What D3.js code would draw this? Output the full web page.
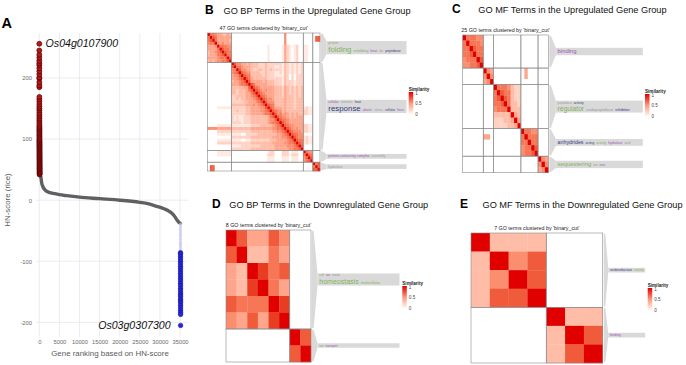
<!DOCTYPE html>
<html>
<head>
<meta charset="utf-8">
<script src="https://cdn.jsdelivr.net/npm/d3@7"></script>
<style>
body { margin: 0; background: #fff; }
svg { font-family: "Liberation Sans", Arial, sans-serif; }
</style>
</head>
<body>
<svg id="fig" width="686" height="365"></svg>
<script>
// ---------- panel A : HN-score ranking ----------
var nGenes = 35150
// top up-regulated genes (rank 1, 2, ...)
var upScores = [256, 245, 238, 233, 228, 224, 221, 216, 211, 206, 201, 199, 193, 188, 185,
  169, 165, 161, 157, 153, 150, 147, 143, 140, 137, 134, 131, 128, 125, 122, 120, 118, 116,
  114, 112, 110, 108, 106, 104, 102, 100, 98.5, 97, 95.5, 94, 92.5, 91, 89.5, 88, 86.5, 85,
  83.5, 82, 80.5, 79, 77.5, 76, 74.5, 73, 71.5, 70, 68.5, 67, 65.5, 64, 62.5, 61, 59.5, 58,
  56.5, 55, 53.5, 52, 50.5, 49, 47.5, 46, 44.5, 43, 42]
// the bulk of genes
var midRanks = [400, 600, 900, 1400, 2200, 3500, 5000, 6800, 10000, 15000, 20000, 25000,
  27000, 29200, 31000, 32500, 33500, 34200, 34700, 35050]
var midScores = [38, 28, 22, 17, 13.5, 11, 9, 7.4, 5, 2.5, 0, -3.5, -5.5, -10, -14, -19,
  -25, -32, -36, -38]
// faint transition genes before the down-regulated group
var fadeScores = [-40, -44, -48, -52, -56, -60, -64, -68, -71, -74, -78, -82]
// down-regulated genes (last ranks)
var downScores = [-86, -88, -92, -96, -100, -104, -108, -112, -116, -120, -124, -128, -132,
  -136, -140, -144, -148, -152, -155, -158, -162, -165, -168, -172, -176, -180, -184, -187, -205]
var xTicksA = [0, 5000, 10000, 15000, 20000, 25000, 30000, 35000]
var yTicksA = [-200, -100, 0, 100, 200]
var topGene = 'Os04g0107900'
var bottomGene = 'Os03g0307300'

// ---------- panels B-E : similarity matrices (lower triangle, digit/9) ----------
function z(n) { return '0'.repeat(n) }
var bpUpSizes = [10, 30, 4, 3]
var bpUpRows = [
  '9', '69', '679', '5669', '44459', '444469', '3445679', '34446679', '444456669', '3434556679',
  z(10) + '9', z(10) + '79', z(10) + '569', z(10) + '5679', z(10) + '45579', z(10) + '445679',
  z(10) + '3445679', z(10) + '44456679', z(10) + '333334479', z(10) + '3323334679',
  z(10) + '33233344679', z(10) + '223333445679', z(10) + '2232334445679',
  z(10) + '22222334445679', z(10) + '333333444545679',
  '0000111111' + '2222223344445579', z(10) + '22322233444455679',
  z(10) + '222222334444456679', z(10) + '2121122233333334679',
  z(10) + '21211222333333345579', z(10) + '222212223333333456679',
  '0000111111' + '1111111122223333345679', '5555444444' + '33333333444444444556679',
  '0000222222' + '222222223333333334455679', '0000111111' + '1111002222233333333445679',
  z(10) + '22222222333333333444455679', '0000111111' + '111100112222222233344445679',
  '0000222222' + '2222222233333333344444556679', z(10) + '11112222222233333344444555679',
  z(10) + '222222223333333333444444556679',
  '0000111111' + '000000000000000122000222011100' + '9',
  '0000111111' + '000000000000000222000222022200' + '69',
  z(10) + '000000000000000111000111011100' + '579',
  z(10) + '000000000000000111000111011100' + '5679',
  z(44) + '9', '0770000000' + z(34) + '69', '0770000000' + z(34) + '779'
]
var mfUpSizes = [6, 3, 8, 5, 3]
var mfUpRows = [
  '9', '69', '669', '6679', '56669', '556679',
  z(6) + '9', z(6) + '59', z(6) + '459',
  z(9) + '9', z(9) + '69', z(9) + '679', z(9) + '6679', z(9) + '56669', z(9) + '333339',
  z(9) + '2223349', z(9) + '22223349',
  z(17) + '9', '000000' + '44' + z(9) + '69', z(17) + '669', z(17) + '5669', z(17) + '56679',
  z(22) + '9', z(22) + '59', z(22) + '459'
]
var bpDownSizes = [6, 2]
var bpDownRows = ['9', '79', '439', '4389', '76669', '547489', z(6) + '9', z(6) + '79']
var mfDownSizes = [4, 3]
var mfDownRows = ['9', '39', '359', '3779', z(4) + '9', z(4) + '39', z(4) + '379']

// word clouds: [word, frequency]; one entry per annotated cluster (null = none)
var bpUpClouds = [
  { top: [['protein', 1.5]], main: [['folding', 9.5], ['refolding', 2.5], ['heat', 2], ['de', 2], ['peptidase', 2]] },
  { top: [['cellular', 1.5], ['stimulus', 1.5], ['heat', 1.5]], main: [['response', 9.5], ['abiotic', 1.5], ['stress', 1.5], ['cellular', 1.5], ['temperature', 1.5], ['heat', 1.5], ['protein', 1.5]] },
  { top: [], main: [['protein-containing complex', 1.8], ['assembly', 1.5]] },
  { top: [], main: [['hydrolase', 1.5]] }
]
var mfUpClouds = [
  { top: [], main: [['binding', 6]] },
  null,
  { top: [['peptidase', 1.5], ['activity', 1.5]], main: [['regulator', 7.5], ['endopeptidase', 3], ['inhibitor', 3]] },
  { top: [], main: [['anhydrides', 5], ['acting', 1.5], ['activity', 1.5], ['hydrolase', 1.5], ['acid', 1.5]] },
  { top: [], main: [['sequestering', 6], ['ion', 1.5], ['iron', 1.5]] }
]
var bpDownClouds = [
  { top: [['cell', 1.2], ['ion', 1.2], ['metal', 1.2]], main: [['homeostasis', 8], ['multicellular', 2.2], ['organismal', 2.2]] },
  { top: [], main: [['ion', 1.2], ['transport', 1.2]] }
]
var mfDownClouds = [
  { top: [], main: [['oxidoreductase', 1.5], ['activity', 1.2]] },
  { top: [], main: [['binding', 1.5]] }
]

var svg = d3.select('#fig')

// ================= panel A =================
function panelA() {
  var x = d3.scaleLinear().domain([-820, 37060]).range([36, 188.3])
  var y = d3.scaleLinear().domain([-223.4, 273.6]).range([336.7, 33])
  var g = svg.append('g')

  // grid
  g.selectAll('.vg').data(xTicksA).enter().append('line')
    .attr('x1', d => x(d)).attr('x2', d => x(d)).attr('y1', 33).attr('y2', 336.7)
    .attr('stroke', '#e2e4ef').attr('stroke-width', 0.7)
  g.selectAll('.hg').data(yTicksA).enter().append('line')
    .attr('y1', d => y(d)).attr('y2', d => y(d)).attr('x1', 36).attr('x2', 188.3)
    .attr('stroke', '#e2e4ef').attr('stroke-width', 0.7)

  var xAxis = d3.axisBottom(x).tickValues(xTicksA).tickSize(0).tickPadding(3.5)
    .tickFormat(d => String(d))
  var gx = g.append('g').attr('transform', 'translate(0,336.7)').call(xAxis)
  gx.select('.domain').remove()
  gx.selectAll('text').attr('font-size', 5.8).attr('fill', '#6b6b6b')
    .attr('font-family', '"Liberation Sans", Arial, sans-serif')

  var yAxis = d3.axisLeft(y).tickValues(yTicksA).tickSize(0).tickPadding(4)
    .tickFormat(d => String(d))
  var gy = g.append('g').attr('transform', 'translate(36,0)').call(yAxis)
  gy.select('.domain').remove()
  gy.selectAll('text').attr('font-size', 5.8).attr('fill', '#6b6b6b')
    .attr('font-family', '"Liberation Sans", Arial, sans-serif')

  // titles
  g.append('text').attr('x', 110).attr('y', 356).attr('text-anchor', 'middle')
    .attr('font-size', 7.9).attr('fill', '#5a5a5a').text('Gene ranking based on HN-score')
  g.append('text').attr('transform', 'translate(10,200) rotate(-90)').attr('text-anchor', 'middle')
    .attr('font-size', 7.9).attr('fill', '#5a5a5a').text('HN-score (rice)')
  svg.append('text').attr('x', 1.5).attr('y', 27.8).attr('font-size', 14.5)
    .attr('font-weight', 'bold').text('A')

  // grey bulk curve
  var line = d3.line().x(d => x(d[0])).y(d => y(d[1])).curve(d3.curveMonotoneX)
  g.append('path').datum(midRanks.map((r, i) => [r, midScores[i]]))
    .attr('d', line).attr('fill', 'none').attr('stroke', '#606060')
    .attr('stroke-width', 3.4).attr('stroke-linecap', 'round')

  // faint transition
  var fadeStart = nGenes - downScores.length - fadeScores.length
  g.selectAll('.fade').data(fadeScores).enter().append('circle')
    .attr('cx', (d, i) => x(fadeStart + i)).attr('cy', d => y(d)).attr('r', 1.6)
    .attr('fill', '#c9c9f0').attr('fill-opacity', 0.8)

  // up-regulated
  g.selectAll('.up').data(upScores.slice().reverse()).enter().append('circle')
    .attr('cx', (d, i) => x(upScores.length - i)).attr('cy', d => y(d)).attr('r', 2.5)
    .attr('fill', '#bb1515').attr('stroke', '#3a0000').attr('stroke-width', 0.6)

  // down-regulated
  var downStart = nGenes - downScores.length + 1
  g.selectAll('.down').data(downScores).enter().append('circle')
    .attr('cx', (d, i) => x(downStart + i)).attr('cy', d => y(d)).attr('r', 2.3)
    .attr('fill', '#2626dc').attr('stroke', '#10108a').attr('stroke-width', 0.5)

  g.append('text').attr('x', x(upScores.length) + 6).attr('y', y(upScores[0]) + 3.6)
    .attr('font-size', 10.6).attr('font-style', 'italic').attr('fill', '#111').text(topGene)
  g.append('text').attr('x', x(nGenes) - 10).attr('y', y(downScores[downScores.length - 1]) + 3.6)
    .attr('text-anchor', 'end').attr('font-size', 10.6).attr('font-style', 'italic')
    .attr('fill', '#111').text(bottomGene)
}

// ================= heatmap panels =================
var heatColor = d3.scaleLinear().domain([0, 1]).range(['#ffffff', '#e00000']).interpolate(d3.interpolateLab)
var green = '#84b25c', navy = '#3a3a86', purple = '#9e55b2', grey = '#9b9b9b'
var leadColor = { folding: green, response: navy, binding: purple, regulator: green,
  anhydrides: navy, sequestering: green, homeostasis: green }
var smallPalette = [navy, green, purple, grey]
var wordSize = d3.scaleLinear().domain([1, 9]).range([3, 7.6])

function toMatrix(rows) {
  var n = rows.length
  var m = []
  for (var i = 0; i < n; i++) {
    for (var j = 0; j < n; j++) {
      var a = Math.max(i, j), b = Math.min(i, j)
      m.push({ i: i, j: j, v: (+rows[a][b] || 0) / 9 })
    }
  }
  return m
}

function heatPanel(opt) {
  var n = opt.rows.length
  var g = svg.append('g')
  var x = d3.scaleBand().domain(d3.range(n)).range([opt.x0, opt.x1])
  var y = d3.scaleBand().domain(d3.range(n)).range([opt.y0, opt.y1])

  g.selectAll('.cell').data(toMatrix(opt.rows)).enter().append('rect')
    .attr('x', d => x(d.j)).attr('y', d => y(d.i))
    .attr('width', x.bandwidth() + 0.25).attr('height', y.bandwidth() + 0.25)
    .attr('fill', d => heatColor(d.v))

  // slice borders
  var cuts = [0]
  opt.sizes.forEach(s => cuts.push(cuts[cuts.length - 1] + s))
  var edge = k => k >= n ? opt.x1 : x(k)
  var edgeY = k => k >= n ? opt.y1 : y(k)
  for (var a = 0; a < opt.sizes.length; a++) {
    for (var b = 0; b < opt.sizes.length; b++) {
      g.append('rect').attr('x', edge(cuts[b])).attr('y', edgeY(cuts[a]))
        .attr('width', edge(cuts[b + 1]) - edge(cuts[b]))
        .attr('height', edgeY(cuts[a + 1]) - edgeY(cuts[a]))
        .attr('fill', 'none').attr('stroke', '#8a8a8a').attr('stroke-width', 0.6)
    }
  }

  // subtitle
  g.append('text').attr('x', (opt.x0 + opt.x1) / 2).attr('y', opt.y0 - 3.2)
    .attr('text-anchor', 'middle').attr('font-size', 5.3).attr('fill', '#222')
    .text(n + " GO terms clustered by 'binary_cut'")

  // word cloud boxes with links
  var bx = opt.x1 + opt.link
  opt.clouds.forEach(function (c, k) {
    if (!c) return
    var top = edgeY(cuts[k]), bot = edgeY(cuts[k + 1])
    var cy = (top + bot) / 2
    var mainSize = d3.max(c.main, w => wordSize(w[1]))
    var topSize = c.top.length ? d3.max(c.top, w => wordSize(w[1])) : 0
    var h = mainSize * 1.05 + (topSize ? topSize + 0.4 : 0) + 1.2
    var b0 = cy - h / 2, b1 = cy + h / 2
    g.append('path')
      .attr('d', d3.line()([[opt.x1 + 1, top + 0.7], [opt.x1 + 2.6, top + 0.7], [bx, b0],
        [bx, b1], [opt.x1 + 2.6, bot - 0.7], [opt.x1 + 1, bot - 0.7]]) + 'Z')
      .attr('fill', '#d9d9d9')
    g.append('rect').attr('x', bx).attr('y', b0).attr('width', opt.boxW).attr('height', h)
      .attr('fill', '#d9d9d9')

    function flow(words, baseline, offset) {
      var cx = bx + 1.8
      words.forEach(function (w, i) {
        var t = g.append('text').attr('x', cx).attr('y', baseline)
          .attr('font-size', wordSize(w[1]))
          .attr('fill', leadColor[w[0]] && i === 0 ? leadColor[w[0]] : smallPalette[(i + offset) % 4])
          .text(w[0])
        var wid = t.node().getComputedTextLength()
        if (cx + wid > bx + opt.boxW - 1) { t.remove(); return }
        cx += wid + 2
      })
    }
    if (topSize) flow(c.top, b0 + topSize * 0.85 + 0.3, k + 1)
    flow(c.main, b1 - mainSize * 0.22 - 0.5, k)
  })

  // legend
  var lg = opt.legend
  var gid = 'grad' + opt.id
  var grad = svg.append('defs').append('linearGradient').attr('id', gid)
    .attr('x1', 0).attr('x2', 0).attr('y1', 0).attr('y2', 1)
  grad.append('stop').attr('offset', '0%').attr('stop-color', heatColor(1))
  grad.append('stop').attr('offset', '50%').attr('stop-color', heatColor(0.5))
  grad.append('stop').attr('offset', '100%').attr('stop-color', heatColor(0))
  g.append('text').attr('x', lg[0]).attr('y', lg[1] - 1).attr('font-size', 4.6)
    .attr('font-weight', 'bold').attr('fill', '#222').text('Similarity')
  g.append('rect').attr('x', lg[0]).attr('y', lg[1]).attr('width', 4.5).attr('height', lg[2])
    .attr('fill', 'url(#' + gid + ')')
  var ls = d3.scaleLinear().domain([1, 0]).range([lg[1] + 1, lg[1] + lg[2] - 1])
  g.selectAll('.lt').data([1, 0.5, 0]).enter().append('text')
    .attr('x', lg[0] + 6.5).attr('y', d => ls(d) + 1.6).attr('font-size', 4.6)
    .attr('fill', '#444').text(d => String(d))

  // panel title
  svg.append('text').attr('x', opt.title[0]).attr('y', opt.title[1]).attr('font-size', 12)
    .attr('font-weight', 'bold').text(opt.letter)
  svg.append('text').attr('x', opt.title[2]).attr('y', opt.title[1]).attr('font-size', 9.2)
    .attr('fill', '#111').text(opt.label)
}

panelA()
heatPanel({ id: 'B', letter: 'B', label: 'GO BP Terms in the Upregulated Gene Group',
  title: [205, 13.5, 223.5], rows: bpUpRows, sizes: bpUpSizes, clouds: bpUpClouds,
  x0: 207.5, x1: 320, y0: 33, y1: 171, link: 6.5, boxW: 80, legend: [408.7, 92, 23] })
heatPanel({ id: 'C', letter: 'C', label: 'GO MF Terms in the Upregulated Gene Group',
  title: [452, 13, 478.3], rows: mfUpRows, sizes: mfUpSizes, clouds: mfUpClouds,
  x0: 462.7, x1: 548.3, y0: 35, y1: 172.7, link: 7.5, boxW: 87, legend: [645, 94, 23] })
heatPanel({ id: 'D', letter: 'D', label: 'GO BP Terms in the Downregulated Gene Group',
  title: [212, 207.5, 229.3], rows: bpDownRows, sizes: bpDownSizes, clouds: bpDownClouds,
  x0: 226, x1: 311, y0: 230, y1: 362, link: 6.5, boxW: 82, legend: [402.3, 286, 23] })
heatPanel({ id: 'E', letter: 'E', label: 'GO MF Terms in the Downregulated Gene Group',
  title: [460, 208, 482.5], rows: mfDownRows, sizes: mfDownSizes, clouds: mfDownClouds,
  x0: 471, x1: 602.7, y0: 233, y1: 363, link: 5.5, boxW: 37, legend: [647.7, 288, 23] })
</script>
</body>
</html>
